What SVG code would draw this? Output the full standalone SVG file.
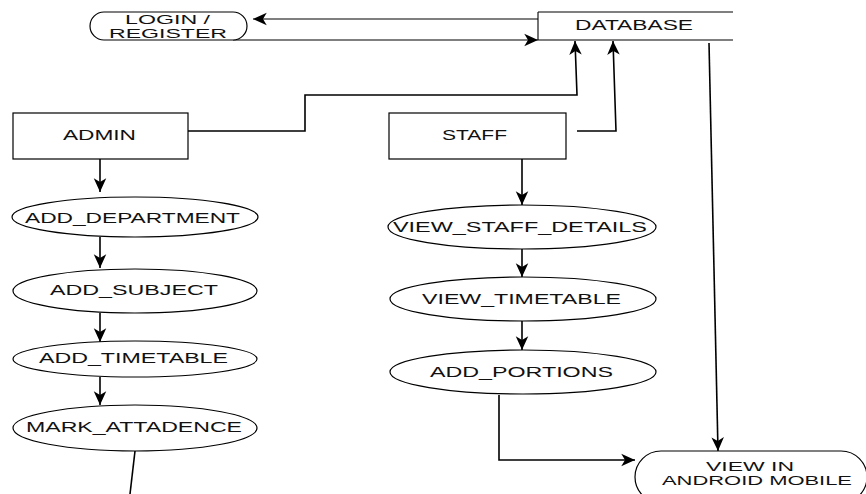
<svg xmlns="http://www.w3.org/2000/svg" width="866" height="494" viewBox="0 0 866 494">
<style>
  .shape { fill: #ffffff; stroke: #000000; stroke-width: 1.2; }
  .lbl { font-family: "Liberation Sans", Arial, sans-serif; font-size: 14px; fill: #111111; }
  .lbl2 { font-family: "Liberation Sans", Arial, sans-serif; font-size: 12.5px; fill: #111111; }
  .conn { fill: none; stroke: #000000; stroke-width: 1.6; }
  .thin { fill: none; stroke: #000000; stroke-width: 1.1; }
</style>
<defs>
  <marker id="arr" markerUnits="userSpaceOnUse" markerWidth="15" markerHeight="15" viewBox="0 0 12 12" refX="11" refY="6" orient="auto">
    <path d="M0,1 L11,6 L0,11 L3,6 z" fill="#000000"/>
  </marker>
</defs>
<rect width="866" height="494" fill="#ffffff"/>

<g id="connectors">
  <line class="thin" x1="538" y1="19" x2="253" y2="19" marker-end="url(#arr)"/>
  <line class="thin" x1="233" y1="40" x2="538" y2="40" marker-end="url(#arr)"/>
  <polyline class="conn" points="188,131 305,131 305,95 577,95 575,41" marker-end="url(#arr)"/>
  <polyline class="conn" points="577,131 616,131 613,41" marker-end="url(#arr)"/>
  <line class="conn" x1="709" y1="43" x2="718" y2="451" marker-end="url(#arr)"/>
  <polyline class="conn" points="499,395 499,460 635,460" marker-end="url(#arr)"/>
  <line class="conn" x1="100" y1="159" x2="100" y2="192" marker-end="url(#arr)"/>
  <line class="conn" x1="100" y1="237" x2="100" y2="268" marker-end="url(#arr)"/>
  <line class="conn" x1="100" y1="313" x2="100" y2="342" marker-end="url(#arr)"/>
  <line class="conn" x1="100" y1="377" x2="100" y2="405" marker-end="url(#arr)"/>
  <line class="conn" x1="135" y1="451" x2="130" y2="494"/>
  <line class="conn" x1="522" y1="159" x2="522" y2="205" marker-end="url(#arr)"/>
  <line class="conn" x1="522" y1="249" x2="522" y2="277" marker-end="url(#arr)"/>
  <line class="conn" x1="522" y1="321" x2="522" y2="350" marker-end="url(#arr)"/>
</g>

<g id="login">
  <rect class="shape" x="90" y="12" width="157" height="28" rx="14" ry="14"/>
  <text class="lbl2" x="125" y="23.5" textLength="85" lengthAdjust="spacingAndGlyphs">LOGIN /</text>
  <text class="lbl2" x="109" y="37.5" textLength="118" lengthAdjust="spacingAndGlyphs">REGISTER</text>
</g>

<g id="database">
  <line class="thin" x1="538" y1="12" x2="733" y2="12"/>
  <line class="thin" x1="538" y1="40" x2="733" y2="40"/>
  <line class="thin" x1="538" y1="12" x2="538" y2="40"/>
  <text class="lbl" x="575" y="30" textLength="118" lengthAdjust="spacingAndGlyphs">DATABASE</text>
</g>

<g id="admin">
  <rect class="shape" x="13" y="113" width="175" height="46"/>
  <text class="lbl" x="63" y="140" textLength="73" lengthAdjust="spacingAndGlyphs">ADMIN</text>
</g>

<g id="staff">
  <rect class="shape" x="389" y="113" width="177" height="46"/>
  <text class="lbl" x="442" y="140" textLength="65" lengthAdjust="spacingAndGlyphs">STAFF</text>
</g>

<g id="add_department">
  <ellipse class="shape" cx="135" cy="217" rx="123" ry="20"/>
  <text class="lbl" x="25" y="223" textLength="215" lengthAdjust="spacingAndGlyphs">ADD_DEPARTMENT</text>
</g>

<g id="add_subject">
  <ellipse class="shape" cx="135" cy="291" rx="122" ry="22"/>
  <text class="lbl" x="50" y="295" textLength="168" lengthAdjust="spacingAndGlyphs">ADD_SUBJECT</text>
</g>

<g id="add_timetable">
  <ellipse class="shape" cx="135" cy="359" rx="122" ry="18"/>
  <text class="lbl" x="39" y="363" textLength="189" lengthAdjust="spacingAndGlyphs">ADD_TIMETABLE</text>
</g>

<g id="mark_attadence">
  <ellipse class="shape" cx="135" cy="428" rx="122" ry="23"/>
  <text class="lbl" x="26" y="432" textLength="216" lengthAdjust="spacingAndGlyphs">MARK_ATTADENCE</text>
</g>

<g id="view_staff_details">
  <ellipse class="shape" cx="522" cy="227" rx="134" ry="22"/>
  <text class="lbl" x="393" y="232" textLength="254" lengthAdjust="spacingAndGlyphs">VIEW_STAFF_DETAILS</text>
</g>

<g id="view_timetable">
  <ellipse class="shape" cx="523" cy="299" rx="133" ry="22"/>
  <text class="lbl" x="422" y="304" textLength="199" lengthAdjust="spacingAndGlyphs">VIEW_TIMETABLE</text>
</g>

<g id="add_portions">
  <ellipse class="shape" cx="523" cy="372" rx="133" ry="22"/>
  <text class="lbl" x="430" y="377" textLength="183" lengthAdjust="spacingAndGlyphs">ADD_PORTIONS</text>
</g>

<g id="view_android">
  <rect class="shape" x="635" y="451" width="232" height="52" rx="26" ry="26"/>
  <text class="lbl2" x="706" y="470.5" textLength="88" lengthAdjust="spacingAndGlyphs">VIEW IN</text>
  <text class="lbl2" x="662" y="484.5" textLength="190" lengthAdjust="spacingAndGlyphs">ANDROID MOBILE</text>
</g>
</svg>
